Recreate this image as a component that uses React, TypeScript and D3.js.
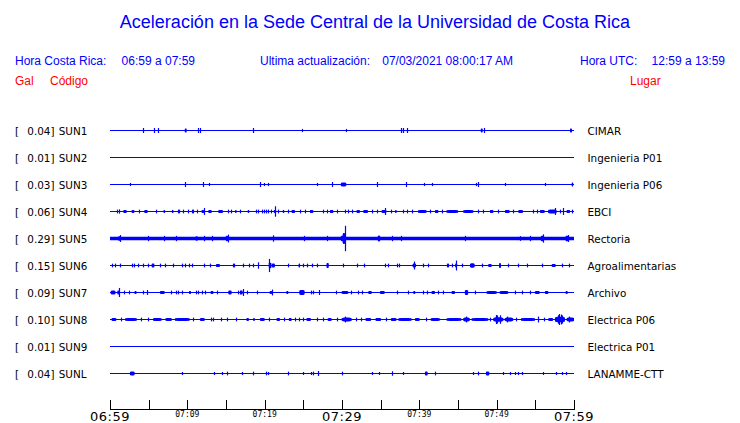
import React from "react";
import * as d3 from "d3";

// ---- data ----
const codes = ["SUN1", "SUN2", "SUN3", "SUN4", "SUN5", "SUN6", "SUN7", "SUN8", "SUN9", "SUNL"];
const gals = ["0.04", "0.01", "0.03", "0.06", "0.29", "0.15", "0.09", "0.10", "0.01", "0.04"];
const places = ["CIMAR", "Ingenieria P01", "Ingenieria P06", "EBCI", "Rectoria", "Agroalimentarias", "Archivo", "Electrica P06", "Electrica P01", "LANAMME-CTT"];
// continuous noise level (fraction of half row)
const bandLevel = [0, 0, 0, 0, 0.13, 0, 0, 0, 0, 0];
const tickMinutes = [0, 5, 10, 15, 20, 25, 30, 35, 40, 45, 50, 55, 60];
const tickLabels: Record<number, string> = { 0: "06:59", 10: "07:09", 20: "07:19", 30: "07:29", 40: "07:39", 50: "07:49", 60: "07:59" };
const bigTicks = [0, 30, 60];

// events: [minute, amplitude (fraction of half row), duration minutes]
type Ev = [number, number, number];
const sun1: Ev[] = [[4.31,.15,0],[5.73,.15,0],[6.25,.15,0],[9.79,.15,.25],[11.42,.15,0],[11.68,.15,0],[18.53,.15,0],[24.79,.08,0],[30.56,.08,0],[37.67,.15,0],[37.93,.15,0],[38.45,.15,0],[48.07,.15,.25],[48.36,.15,0],[59.61,.15,.25]];
const sun2: Ev[] = [];
const sun3: Ev[] = [[2.63,.08,0],[9.74,.15,0],[12.07,.15,0],[12.84,.08,0],[19.35,.15,0],[19.96,.08,0],[20.47,.08,0],[26.81,.08,0],[28.75,.15,0],[30.2,.15,.7],[34.48,.15,0],[38.32,.15,0],[40.65,.08,0],[41.68,.08,0],[47.28,.08,0],[47.63,.15,0],[51.12,.08,0],[56.29,.08,0],[59.8,.15,.2]];
const sun4: Ev[] = [[0.86,.1,0],[1.2,.12,0],[1.94,.12,.43],[2.97,.12,.35],[3.79,.1,0],[4.65,.12,.43],[5.95,.1,0],[7.02,.12,.2],[8.1,.12,.2],[8.75,.1,0],[8.92,.1,0],[9.48,.1,0],[10.04,.1,0],[10.56,.1,0],[10.77,.1,0],[11.2,.1,0],[12.06,.12,.43],[12.1,.22,0],[12.93,.12,.43],[14.3,.12,.6],[15.2,.1,0],[15.64,.1,0],[16.25,.12,.15],[16.8,.1,0],[17.88,.12,.15],[18.83,.1,0],[19.09,.1,0],[19.6,.1,0],[19.95,.1,0],[20.2,.1,0],[20.47,.1,0],[20.82,.1,0],[21.33,.35,0],[21.33,.12,.3],[21.68,.1,0],[22.41,.12,.15],[22.97,.1,0],[23.7,.12,.43],[24.57,.1,0],[25.21,.1,0],[26.07,.12,.43],[27.58,.1,0],[28.01,.1,0],[28.66,.12,.43],[29.3,.1,0],[30.38,.1,0],[30.81,.1,0],[31.24,.1,0],[32.1,.12,.43],[33.05,.12,.6],[33.83,.1,0],[34.48,.1,0],[35.43,.12,.6],[35.6,.22,0],[36.33,.1,0],[36.94,.12,.15],[37.93,.1,0],[38.36,.1,0],[39.0,.1,0],[40.38,.12,1.1],[41.37,.1,0],[42.24,.12,.43],[42.88,.1,0],[44.26,.12,1.5],[46.33,.12,1.3],[47.6,.1,0],[48.27,.1,0],[49.35,.12,.43],[50.21,.1,0],[51.37,.12,.6],[52.15,.1,0],[53.1,.12,.6],[54.74,.1,0],[55.17,.1,0],[55.9,.12,.6],[57.2,.15,1.1],[57.5,.22,0],[58.18,.1,0],[58.6,.22,0],[59.26,.12,.43],[59.7,.1,0]];
const sun5: Ev[] = [[1.29,.22,0],[1.2,.16,.3],[4.87,.16,0],[7.02,.16,0],[8.53,.16,0],[11.2,.16,.3],[12.15,.16,0],[13.23,.16,0],[15.13,.2,.3],[15.2,.25,0],[21.12,.2,0],[25.13,.16,0],[28.01,.16,0],[30.38,.9,0],[30.25,.4,.35],[30.0,.2,.3],[34.78,.22,.3],[36.42,.16,0],[37.62,.16,0],[45.9,.16,0],[53.01,.14,0],[54.3,.16,0],[55.9,.2,.4],[56.03,.27,0],[59.1,.2,.4],[59.18,.22,0]];
const sun6: Ev[] = [[0.21,.1,0],[0.64,.1,0],[1.29,.1,0],[2.8,.1,0],[3.14,.1,0],[3.57,.1,0],[4.22,.1,0],[4.87,.1,0],[5.56,.15,.35],[6.46,.1,0],[7.11,.1,0],[8.19,.1,0],[9.26,.1,0],[9.69,.1,0],[10.21,.1,0],[10.64,.1,0],[12.15,.1,0],[12.93,.1,0],[13.96,.12,.5],[15.86,.1,0],[16.07,.1,0],[17.15,.1,0],[17.97,.1,0],[18.53,.1,0],[19.18,.2,0],[20.6,.45,0],[20.7,.2,.35],[21.12,.15,.4],[23.06,.1,0],[24.48,.15,.2],[24.99,.1,0],[25.43,.1,0],[26.16,.1,0],[26.8,.1,0],[28.14,.18,.3],[30.17,.1,0],[31.89,.1,0],[32.88,.1,0],[35.56,.1,0],[35.9,.1,0],[37.06,.1,0],[37.37,.1,0],[39.3,.26,0],[39.35,.14,.45],[40.51,.1,0],[41.07,.1,0],[43.53,.1,0],[43.74,.1,0],[44.17,.1,0],[44.69,.33,0],[44.75,.14,.25],[45.47,.1,0],[46.85,.17,.6],[48.05,.1,0],[49.13,.12,.43],[50.43,.18,.25],[51.5,.1,0],[52.71,.1,0],[53.87,.1,0],[55.81,.1,0],[57.37,.12,.5],[58.4,.1,0],[59.39,.1,0]];
const sun7: Ev[] = [[0.4,.15,.6],[1.16,.3,0],[1.1,.15,.3],[1.81,.1,0],[2.45,.1,0],[3.3,.12,.25],[4.31,.1,0],[4.74,.15,0],[6.76,.12,.6],[7.88,.1,0],[8.49,.1,0],[8.75,.1,0],[9.35,.1,0],[10.34,.12,.25],[11.07,.1,0],[11.42,.1,0],[11.85,.1,0],[12.28,.1,0],[13.19,.12,.35],[13.83,.1,0],[15.51,.15,.43],[16.5,.1,0],[16.81,.1,0],[17.15,.22,0],[17.0,.15,.3],[17.67,.1,0],[18.96,.1,0],[20.9,.18,0],[20.8,.12,.3],[22.93,.12,.25],[24.82,.18,.7],[25.99,.1,0],[26.29,.1,0],[27.06,.15,0],[29.22,.1,0],[30.38,.12,.85],[31.16,.1,0],[32.11,.1,0],[32.62,.1,0],[33.62,.12,.43],[35.21,.12,.6],[37.06,.1,0],[38.49,.1,0],[39.35,.12,.25],[40.51,.1,0],[40.94,.1,0],[41.8,.12,.43],[42.45,.1,0],[43.01,.1,0],[44.39,.12,.43],[46.1,.18,.43],[47.19,.1,0],[49.35,.12,1.3],[50.94,.12,1.1],[52.36,.1,0],[53.23,.1,0],[54.3,.1,0],[55.25,.12,.6],[56.46,.12,.43],[59.05,.12,.25]];
const sun8: Ev[] = [[0.51,.12,.6],[1.42,.1,0],[2.71,.12,1.5],[4.0,.1,0],[4.87,.1,0],[6.12,.12,1.1],[7.58,.12,.8],[9.35,.12,1.9],[10.77,.1,0],[11.94,.12,.6],[13.06,.1,0],[13.36,.1,0],[14.35,.1,0],[15.08,.1,0],[16.29,.1,0],[17.8,.12,.3],[18.62,.12,.2],[19.7,.12,.6],[20.6,.1,0],[21.76,.12,.43],[22.54,.1,0],[23.3,.12,.35],[23.92,.1,0],[24.44,.1,0],[24.99,.1,0],[25.69,.12,.55],[26.72,.1,0],[27.58,.1,0],[28.4,.12,.5],[29.3,.1,0],[30.6,.14,1.3],[30.4,.18,0],[31.76,.1,0],[32.45,.1,0],[33.4,.12,.7],[34.69,.12,.7],[35.64,.1,0],[36.68,.12,.7],[38.14,.12,1.7],[39.74,.12,.6],[40.81,.1,0],[42.06,.12,1.15],[44.48,.12,1.9],[46.1,.14,.85],[46.0,.18,0],[47.84,.12,2.15],[49.13,.1,0],[50.21,.17,1.3],[49.9,.3,0],[50.1,.26,0],[50.45,.28,0],[51.59,.14,1.1],[51.4,.18,0],[52.45,.1,0],[54.05,.12,1.8],[55.38,.18,0],[56.16,.1,0],[56.98,.12,.6],[58.18,.2,1.3],[57.9,.28,0],[58.1,.37,0],[58.3,.33,0],[58.5,.26,0],[59.56,.15,1.0],[59.4,.18,0]];
const sun9: Ev[] = [];
const sunl: Ev[] = [[2.88,.15,.6],[9.26,.07,0],[13.49,.07,0],[14.52,.07,0],[15.17,.1,0],[17.07,.07,0],[18.53,.1,0],[20.13,.1,0],[20.47,.07,0],[23.06,.1,0],[24.99,.07,0],[25.99,.07,0],[26.2,.1,0],[26.85,.15,0],[30.04,.1,0],[33.92,.07,0],[34.82,.07,0],[36.5,.13,0],[37.93,.07,0],[40.9,.15,.35],[42.02,.1,0],[46.98,.07,0],[47.54,.1,0],[48.83,.15,.43],[50.86,.07,0],[51.72,.07,0],[52.36,.07,0],[52.71,.07,0],[53.23,.07,0],[56.03,.07,0],[57.62,.07,0],[58.49,.07,0],[58.92,.07,0]];
const events: Ev[][] = [sun1, sun2, sun3, sun4, sun5, sun6, sun7, sun8, sun9, sunl];

export default function App() {
  const W = 740, H = 423;
  const x = d3.scaleLinear().domain([0, 60]).range([110, 574]);
  const row = d3.scalePoint<string>().domain(codes).range([130.5, 373.5]);
  const amp = d3.scaleLinear().domain([0, 1]).range([0, 13.5]);
  const blue = "#0000ff";
  const red = "#ff0000";
  const hdr = { fontFamily: "'Liberation Sans', Arial, sans-serif", fontSize: 12 };
  const lab = { fontFamily: "'DejaVu Sans', sans-serif", fontSize: 10.4 };

  return (
    <svg width={W} height={H} style={{ position: "absolute", left: 0, top: 0, background: "#fff" }}>
      <text x={375} y={28} textAnchor="middle" fill={blue} fontFamily="'Liberation Sans', Arial, sans-serif" fontSize={18}>
        Aceleración en la Sede Central de la Universidad de Costa Rica
      </text>
      <text x={15} y={65} fill={blue} {...hdr}>Hora Costa Rica:</text>
      <text x={195} y={65} textAnchor="end" fill={blue} {...hdr}>06:59 a 07:59</text>
      <text x={260} y={65} fill={blue} {...hdr}>Ultima actualización:</text>
      <text x={513} y={65} textAnchor="end" fill={blue} {...hdr}>07/03/2021 08:00:17 AM</text>
      <text x={580} y={65} fill={blue} {...hdr}>Hora UTC:</text>
      <text x={725} y={65} textAnchor="end" fill={blue} {...hdr}>12:59 a 13:59</text>
      <text x={15} y={85} fill={red} {...hdr}>Gal</text>
      <text x={50} y={85} fill={red} {...hdr}>Código</text>
      <text x={630} y={85} fill={red} {...hdr}>Lugar</text>

      {codes.map((c, i) => {
        const y = row(c)!;
        const lvl = amp(bandLevel[i]);
        return (
          <g key={c}>
            <text x={15} y={y + 4} {...lab} fill="#000">[</text>
            <text x={54.5} y={y + 4} textAnchor="end" {...lab} fill="#000">{gals[i] + "]"}</text>
            <text x={58.7} y={y + 4} {...lab} fill="#000">{c}</text>
            <text x={587.5} y={y + 4} {...lab} fill="#000">{places[i]}</text>
            <line x1={x(0)} x2={x(60)} y1={y} y2={y} stroke={blue} strokeWidth={1} shapeRendering="crispEdges" />
            {lvl > 0 && (
              <rect x={x(0)} width={x(60) - x(0)} y={y - lvl} height={2 * lvl} fill={blue} />
            )}
            {events[i].map((e, j) => {
              const a = Math.max(amp(e[1]), 1);
              if (e[2] > 0) {
                const x0 = x(e[0] - e[2] / 2);
                const x1 = Math.max(Math.min(x(e[0] + e[2] / 2), x(60)), x0 + 1.5);
                const w = x1 - x0;
                const pts: [number, number][] = [
                  [x0, y - a * 0.7], [x0 + w * 0.25, y - a], [x1 - w * 0.25, y - a], [x1, y - a * 0.7],
                  [x1, y + a * 0.7], [x1 - w * 0.25, y + a], [x0 + w * 0.25, y + a], [x0, y + a * 0.7],
                ];
                return <path key={j} d={d3.line()(pts) + "Z"} fill={blue} />;
              }
              const xp = Math.round(x(e[0])) + 0.5;
              return <line key={j} x1={xp} x2={xp} y1={y - a - 0.5} y2={y + a + 0.5} stroke={blue} strokeWidth={1.2} />;
            })}
          </g>
        );
      })}

      <line x1={x(0)} x2={x(60)} y1={409.5} y2={409.5} stroke="#000" strokeWidth={1} shapeRendering="crispEdges" />
      {tickMinutes.map((m) => {
        const xp = Math.round(x(m)) + 0.5;
        return <line key={m} x1={xp} x2={xp} y1={400} y2={409.5} stroke="#000" strokeWidth={1} shapeRendering="crispEdges" />;
      })}
      {Object.keys(tickLabels).map((k) => {
        const m = +k;
        const big = bigTicks.includes(m);
        return (
          <text key={k} x={x(m)} y={big ? 421 : 417} textAnchor="middle" fill="#000"
            fontFamily={big ? "'DejaVu Sans', sans-serif" : "'DejaVu Sans Mono', monospace"}
            fontSize={big ? 13 : 8} letterSpacing={big ? 0.5 : 0}>
            {tickLabels[m]}
          </text>
        );
      })}
    </svg>
  );
}
